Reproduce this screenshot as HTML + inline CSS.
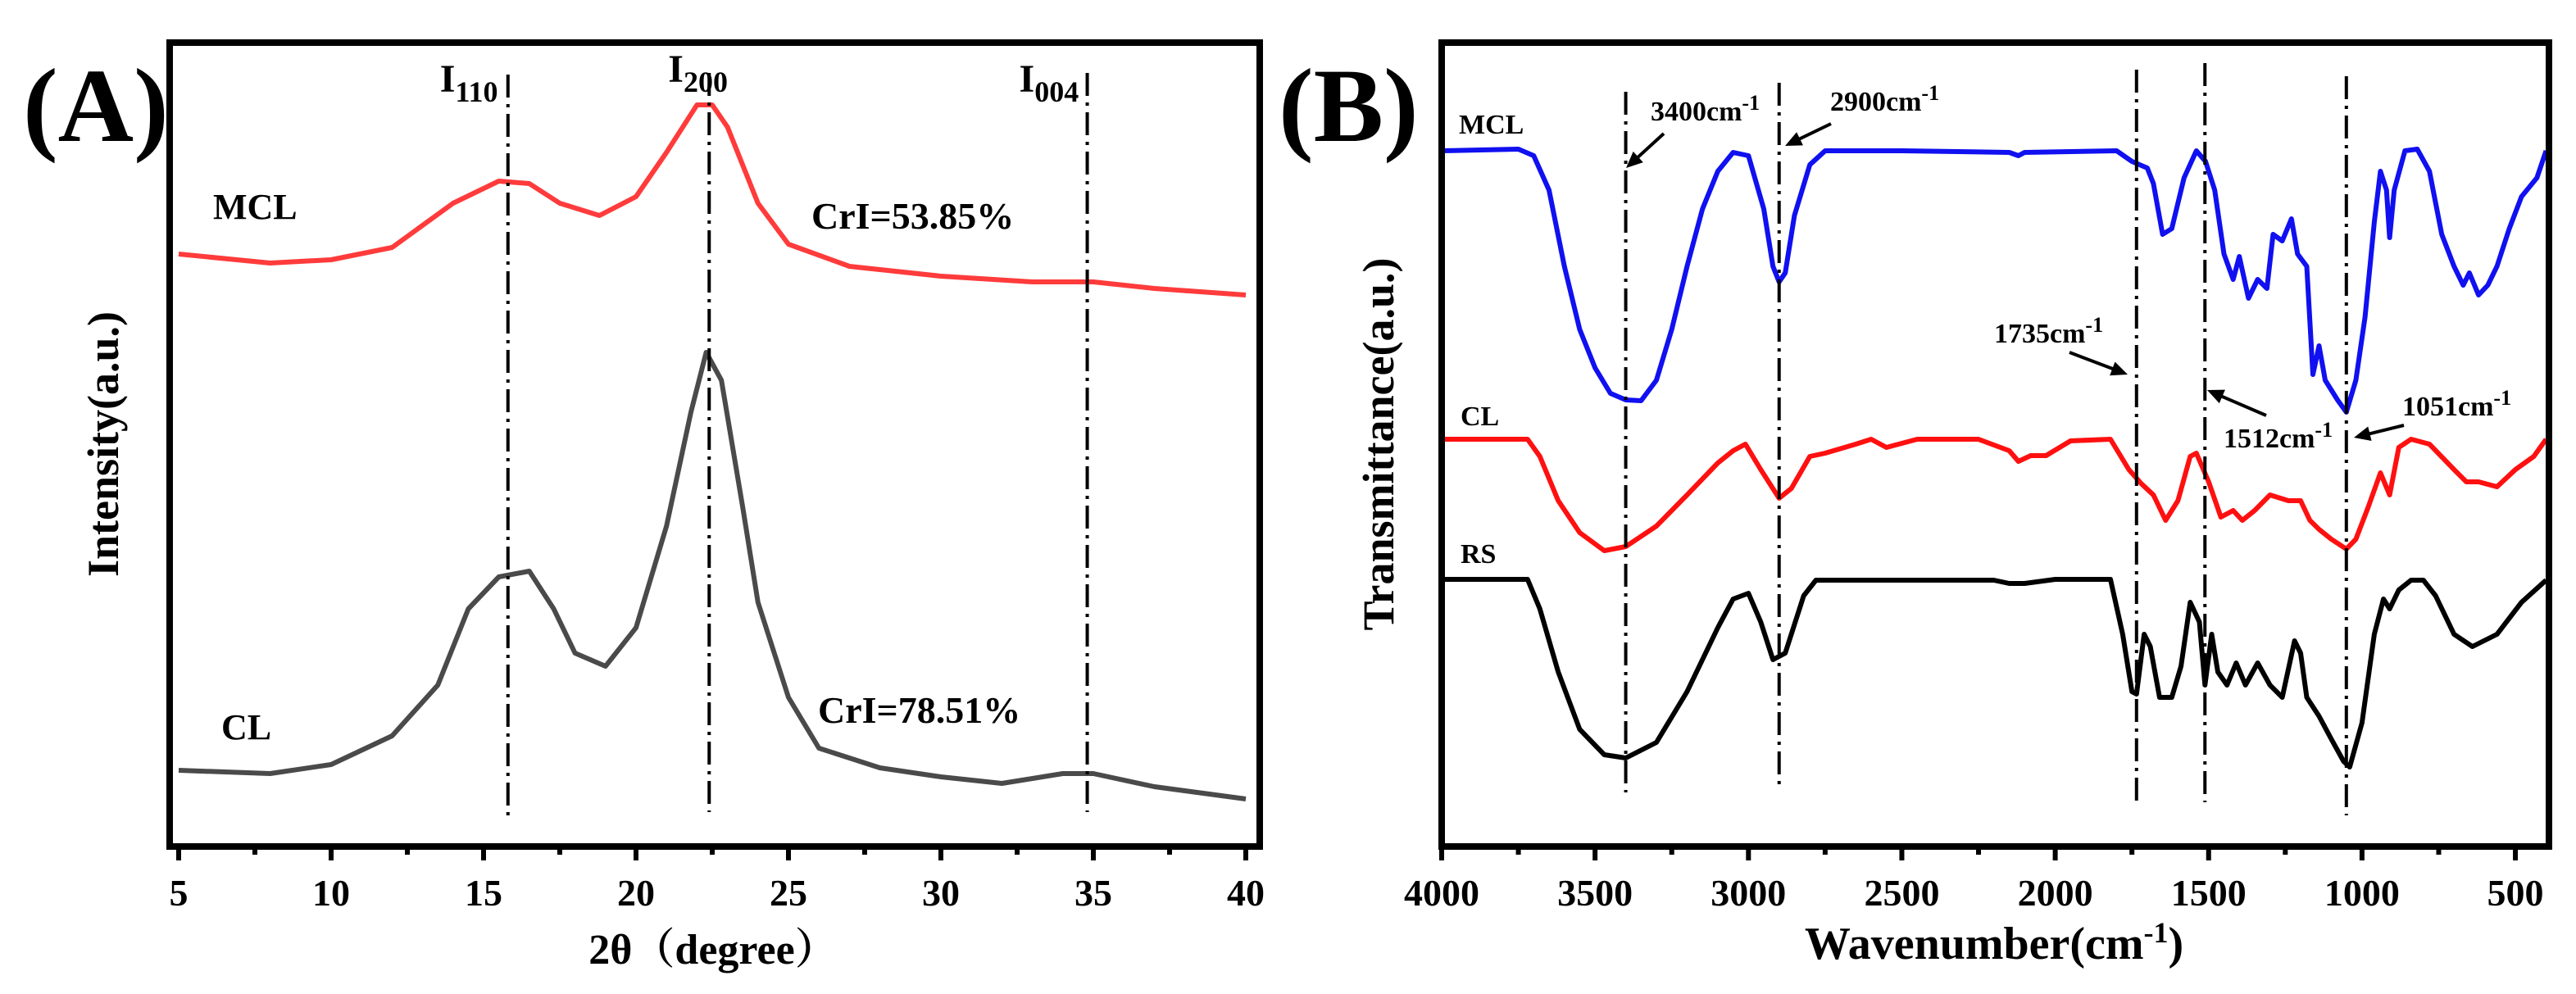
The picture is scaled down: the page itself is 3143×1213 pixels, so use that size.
<!DOCTYPE html>
<html><head><meta charset="utf-8"><style>
html,body{margin:0;padding:0;background:#fff;}
svg{display:block;}
text{font-family:"Liberation Serif","Noto Serif CJK SC",serif;font-weight:bold;fill:#000;}
</style></head><body>
<svg id="fig" width="3143" height="1213" viewBox="0 0 3143 1213" xmlns="http://www.w3.org/2000/svg">
<g id="pa"></g>
<g id="pb"></g>
</svg>
<script>
// ---------- Panel A data ----------
const aMclX = [5,8,10,12,14,15.5,16.5,17.5,18.8,20,21,22,22.5,23,24,25,27,30,33,35,37,40];
const aMclY = [723,712,716,731,785,812,809,785,770,793,847,905,905,878,785,735,708,696,689,689,681,673];
const aClX = [5,8,10,12,13.5,14.5,15.5,16.5,17.3,18,19,20,21,21.8,22.3,22.8,23.5,24,25,26,28,30,32,34,35,37,40];
const aClY = [93,89,100,135,197,290,329,336,290,236,220,267,391,530,603,569,414,298,182,120,96,85,77,89,89,73,58];
const aTicks = [5,10,15,20,25,30,35,40];
const aPeaks = [15.8,22.4,34.8];
const aPeakLabels = [["I","110"],["I","200"],["I","004"]];

// ---------- Panel B data ----------
const bMclX = [4000,3750,3700,3650,3600,3550,3500,3450,3400,3350,3300,3250,3200,3150,3100,3050,3000,2950,2920,2900,2880,2850,2800,2750,2500,2150,2120,2100,1800,1750,1700,1680,1650,1620,1580,1540,1510,1480,1450,1420,1400,1370,1340,1310,1290,1260,1230,1210,1180,1160,1140,1120,1080,1051,1020,990,960,940,920,910,895,860,820,780,740,700,670,650,620,590,560,520,480,430,400];
const bMclY = [849,851,843,801,708,631,584,553,545,544,569,631,708,778,824,847,843,778,708,689,700,770,832,849,849,847,843,847,849,836,828,809,747,754,816,849,836,801,723,692,720,669,692,681,747,739,766,723,708,576,611,569,545,530,569,646,762,824,801,743,801,849,851,824,747,708,685,700,673,685,708,754,793,816,849];
const bClX = [4000,3720,3680,3620,3550,3470,3400,3300,3200,3100,3050,3010,2960,2900,2860,2800,2750,2650,2600,2550,2450,2250,2150,2120,2080,2030,1950,1820,1760,1720,1680,1640,1600,1560,1540,1500,1460,1420,1390,1350,1300,1240,1200,1170,1140,1100,1051,1020,980,940,910,880,840,780,700,660,620,560,500,440,400];
const bClY = [497,497,476,422,383,361,366,391,429,468,483,491,460,425,437,476,480,491,497,487,497,497,483,470,477,477,495,497,460,443,429,398,422,476,480,445,402,410,398,410,429,422,422,398,387,375,363,375,414,456,429,487,497,491,460,445,445,439,460,476,497];
const bRsX = [4000,3720,3680,3620,3550,3470,3400,3300,3200,3100,3050,3000,2960,2920,2880,2820,2780,2200,2150,2100,2000,1820,1780,1750,1735,1710,1690,1660,1620,1590,1560,1530,1512,1490,1470,1440,1410,1380,1340,1300,1260,1220,1200,1180,1140,1100,1060,1040,1000,960,930,910,880,840,800,760,700,640,560,480,400];
const bRsY = [326,326,290,213,143,112,108,127,189,267,302,309,274,228,236,306,325,325,321,321,326,326,259,189,186,259,244,182,182,220,298,274,197,259,213,197,224,197,224,197,182,251,236,182,159,131,104,97,151,259,302,290,313,325,325,306,259,244,259,298,325];
const bTicks = [4000,3500,3000,2500,2000,1500,1000,500];
const bPeaks = [3400,2900,1735,1512,1051];

const NS="http://www.w3.org/2000/svg";
function mk(parent,tag,attrs,txt){const e=document.createElementNS(NS,tag);for(const k in attrs)e.setAttribute(k,attrs[k]);if(txt!==undefined)e.textContent=txt;parent.appendChild(e);return e;}
const TOP=52, BOT=1033;
function yS(v){return BOT - v;}

// ===== Panel A =====
const pa=document.getElementById('pa');
const aL=207,aR=1537;
function xA(v){return 218+(v-5)*37.2;}
function lineA(xs,ys,color,name){
  let d='';xs.forEach((x,i)=>{d+=(i?'L':'M')+xA(x).toFixed(1)+' '+yS(ys[i]).toFixed(1);});
  const p=mk(pa,'path',{d:d,fill:'none',stroke:color,'stroke-width':6,'stroke-linejoin':'round'});
  
  
}
lineA(aMclX,aMclY,'#ff3b3b','mcl-xrd-line');
lineA(aClX,aClY,'#4a4a4a','cl-xrd-line');
aPeaks.forEach((p,i)=>{
  const l=mk(pa,'line',{x1:xA(p),x2:xA(p),y1:i==0?91:89,y2:i==0?995:991,stroke:'#000','stroke-width':4,'stroke-dasharray':'28 8 4 8'});
  
  
  const t=mk(pa,'text',{x:xA(p)-(i==1?50:83),y:i==1?100:112,'font-size':48,'font-weight':'normal'});
  
  
  mk(t,'tspan',{},aPeakLabels[i][0]);
  mk(t,'tspan',{dy:12,'font-size':36},aPeakLabels[i][1]);
});
mk(pa,'rect',{x:aL,y:TOP,width:aR-aL,height:BOT-TOP,fill:'none',stroke:'#000','stroke-width':8,});
for(let v=5;v<=40;v+=2.5){const maj=v%5===0;mk(pa,'line',{x1:xA(v),x2:xA(v),y1:BOT,y2:BOT+(maj?17:10),stroke:'#000','stroke-width':6});}
aTicks.forEach(v=>{const t=mk(pa,'text',{x:xA(v),y:1105,'font-size':46,'text-anchor':'middle'},String(v));
  
  });
mk(pa,'text',{x:870,y:1176,'font-size':52,'text-anchor':'middle',},'2θ（degree）');
mk(pa,'text',{x:0,y:0,'font-size':54,'text-anchor':'middle',transform:'translate(144,542) rotate(-90)',},'Intensity(a.u.)');
mk(pa,'text',{x:28,y:172,'font-size':128,},'(A)');
mk(pa,'text',{x:260,y:267,'font-size':44,'font-weight':'normal',},'MCL');
mk(pa,'text',{x:270,y:902,'font-size':44,'font-weight':'normal',},'CL');
mk(pa,'text',{x:990,y:279,'font-size':46,'font-weight':'normal',},'CrI=53.85%');
mk(pa,'text',{x:998,y:882,'font-size':46,'font-weight':'normal',},'CrI=78.51%');

// ===== Panel B =====
const pb=document.getElementById('pb');
const bL=1759,bR=3110;
function xB(w){return bL+(4000-w)*0.3743;}
function lineB(xs,ys,color,name){
  let d='';xs.forEach((x,i)=>{d+=(i?'L':'M')+xB(x).toFixed(1)+' '+yS(ys[i]).toFixed(1);});
  const p=mk(pb,'path',{d:d,fill:'none',stroke:color,'stroke-width':6,'stroke-linejoin':'round'});
  
  
}
lineB(bMclX,bMclY,'#1010f0','mcl-ftir-line');
lineB(bClX,bClY,'#ff1010','cl-ftir-line');
lineB(bRsX,bRsY,'#000','rs-ftir-line');
const pkTop=[112,101,85,77,93], pkBot=[967,960,979,979,995];
bPeaks.forEach((p,i)=>{
  const l=mk(pb,'line',{x1:xB(p),x2:xB(p),y1:pkTop[i],y2:pkBot[i],stroke:'#000','stroke-width':4,'stroke-dasharray':'28 8 4 8'});
  
  
});
mk(pb,'rect',{x:bL,y:TOP,width:bR-bL,height:BOT-TOP,fill:'none',stroke:'#000','stroke-width':8,});
for(let w=4000;w>=400;w-=250){const maj=w%500===0;mk(pb,'line',{x1:xB(w),x2:xB(w),y1:BOT,y2:BOT+(maj?17:10),stroke:'#000','stroke-width':6});}
bTicks.forEach(v=>{const t=mk(pb,'text',{x:xB(v),y:1105,'font-size':46,'text-anchor':'middle'},String(v));
  
  });
const xt=mk(pb,'text',{x:2433,y:1170,'font-size':56,'text-anchor':'middle',});
mk(xt,'tspan',{},'Wavenumber(cm');mk(xt,'tspan',{dy:-20,'font-size':36},'-1');mk(xt,'tspan',{dy:20},')');
mk(pb,'text',{x:0,y:0,'font-size':54,'text-anchor':'middle',transform:'translate(1700,542) rotate(-90)',},'Transmittance(a.u.)');
mk(pb,'text',{x:1560,y:172,'font-size':128,},'(B)');
mk(pb,'text',{x:1780,y:163,'font-size':34,},'MCL');
mk(pb,'text',{x:1782,y:519,'font-size':34,},'CL');
mk(pb,'text',{x:1782,y:687,'font-size':34,},'RS');
const ann=[['3400',2014,147,2030,163,1984,205],['2900',2233,135,2234,151,2178,178],['1735',2433,418,2525,430,2596,457],['1512',2713,546,2765,507,2693,476],['1051',2931,507,2933,519,2872,534]];
ann.forEach(a=>{
  const t=mk(pb,'text',{x:a[1],y:a[2],'font-size':34});
  
  
  mk(t,'tspan',{},a[0]+'cm');mk(t,'tspan',{dy:-13,'font-size':26},'-1');
  const dx=a[5]-a[3],dy=a[6]-a[4],L=Math.hypot(dx,dy),ux=dx/L,uy=dy/L;
  mk(pb,'line',{x1:a[3],y1:a[4],x2:a[5]-ux*14,y2:a[6]-uy*14,stroke:'#000','stroke-width':4});
  const bx=a[5]-ux*20,by=a[6]-uy*20;
  mk(pb,'polygon',{points:`${a[5]},${a[6]} ${bx-uy*9},${by+ux*9} ${bx+uy*9},${by-ux*9}`,fill:'#000'});
});
</script>
</body></html>
